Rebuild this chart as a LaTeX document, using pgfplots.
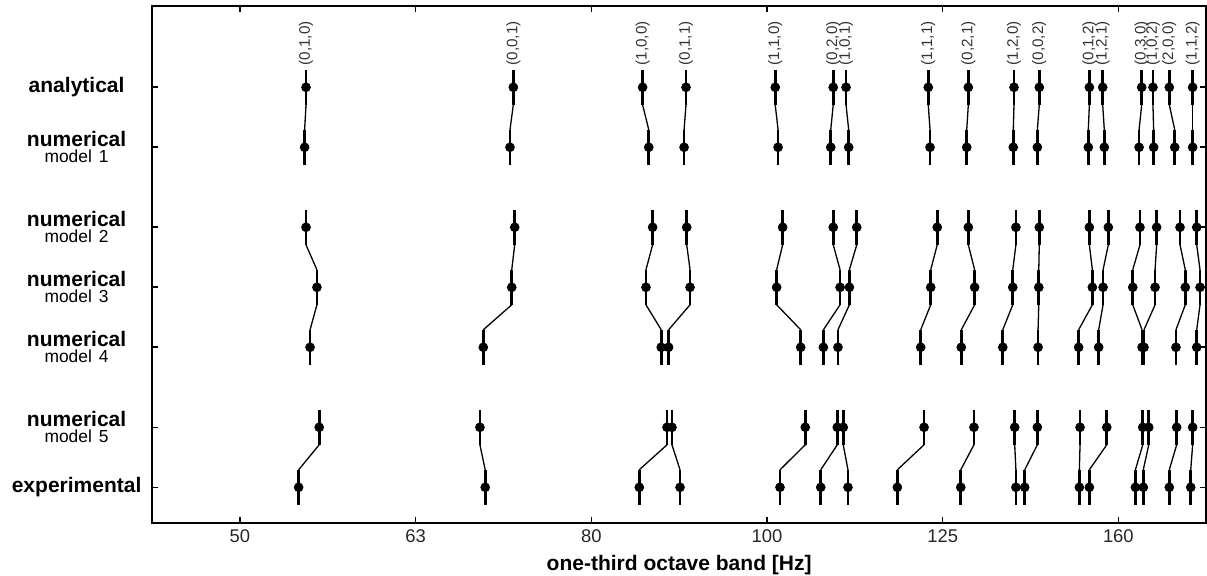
\documentclass[border=0pt]{standalone}
\usepackage{fontspec}
\setmainfont{Liberation Sans}
\usepackage{pgfplots}
\pgfplotsset{compat=1.18}
\usepackage{pgfplotstable}

% x: position in one-third octave bands (0 = 50 Hz, 1 = 63 Hz, ...)
\pgfplotstableread{
label   xA    xMa   xMb   xMc   xMd   xMe   xE
(0,1,0) 0.376 0.368 0.376 0.438 0.399 0.451 0.334
(0,0,1) 1.556 1.537 1.564 1.547 1.385 1.366 1.396
(1,0,0) 2.292 2.327 2.349 2.311 2.398 2.431 2.273
(0,1,1) 2.539 2.528 2.543 2.562 2.440 2.459 2.505
(1,1,0) 3.047 3.063 3.089 3.055 3.192 3.218 3.074
(0,2,0) 3.377 3.363 3.377 3.416 3.321 3.400 3.306
(1,0,1) 3.450 3.465 3.511 3.469 3.404 3.434 3.461
(1,1,1) 3.918 3.928 3.969 3.932 3.875 3.894 3.742
(0,2,1) 4.146 4.137 4.146 4.182 4.106 4.178 4.103
(1,2,0) 4.406 4.402 4.417 4.399 4.342 4.410 4.417
(0,0,2) 4.550 4.539 4.550 4.547 4.543 4.539 4.467
(0,1,2) 4.835 4.829 4.835 4.852 4.774 4.782 4.778
(1,2,1) 4.911 4.920 4.943 4.913 4.888 4.934 4.835
(0,3,0) 5.133 5.118 5.123 5.082 5.135 5.139 5.097
(1,0,2) 5.197 5.201 5.218 5.209 5.146 5.173 5.142
(2,0,0) 5.290 5.321 5.351 5.381 5.328 5.332 5.290
(1,1,2) 5.423 5.423 5.446 5.465 5.446 5.423 5.412
}\modes

\begin{document}
\begin{tikzpicture}
\begin{axis}[
  scale only axis, width=526.85pt, height=258.5pt,
  xmin=-0.499, xmax=5.499,
  ymin=-4.065, ymax=21.785, y dir=reverse,
  axis line style={line width=0.9pt},
  xtick={0,1,2,3,4,5}, xticklabels={50,63,80,100,125,160},
  ytick={0,3,7,10,13,17,20},
  yticklabels={
    {\textbf{analytical}},
    {\textbf{numerical}\\{\fontsize{8.7}{8}\selectfont model 1}},
    {\textbf{numerical}\\{\fontsize{8.7}{8}\selectfont model 2}},
    {\textbf{numerical}\\{\fontsize{8.7}{8}\selectfont model 3}},
    {\textbf{numerical}\\{\fontsize{8.7}{8}\selectfont model 4}},
    {\textbf{numerical}\\{\fontsize{8.7}{8}\selectfont model 5}},
    {\textbf{experimental}}},
  tick align=inside, major tick length=3pt,
  tick style={line width=0.8pt, black},
  xticklabel style={font=\fontsize{9.2}{10}\selectfont, text=black!85},
  yticklabel style={font=\fontsize{10.5}{8}\selectfont, align=center, text width=68pt, inner sep=0pt, xshift=-3.65pt},
  xlabel={\textbf{one-third octave band [Hz]}},
  xlabel style={font=\fontsize{10.5}{12}\selectfont, yshift=1pt},
  /pgf/number format/assume math mode=true,
  clip=false,
]
% mode labels
\addplot[draw=none, mark=none, point meta=explicit symbolic, nodes near coords,
  nodes near coords style={rotate=90, anchor=west, font=\fontsize{7.6}{8}\selectfont, text=black!80, inner sep=2pt}]
  table[x=xA, y expr=-0.875, meta=label] {\modes};
% thin connecting lines
\addplot[black, line width=0.65pt, mark=none, quiver={u=\thisrow{xMa}-\thisrow{xA}, v=1.25}] table[x=xA, y expr=0.875] {\modes};
\addplot[black, line width=0.65pt, mark=none, quiver={u=\thisrow{xMc}-\thisrow{xMb}, v=1.25}] table[x=xMb, y expr=7.875] {\modes};
\addplot[black, line width=0.65pt, mark=none, quiver={u=\thisrow{xMd}-\thisrow{xMc}, v=1.25}] table[x=xMc, y expr=10.875] {\modes};
\addplot[black, line width=0.65pt, mark=none, quiver={u=\thisrow{xE}-\thisrow{xMe}, v=1.25}] table[x=xMe, y expr=17.875] {\modes};
% points with thick bars
\pgfplotsset{rowstyle/.style={black, only marks, mark=*, mark size=2.2pt,
  error bars/.cd, y dir=both, y fixed=0.875, error mark=none, error bar style={line width=1.4pt}}}
\addplot[rowstyle] table[x=xA, y expr=0] {\modes};
\addplot[rowstyle] table[x=xMa, y expr=3] {\modes};
\addplot[rowstyle] table[x=xMb, y expr=7] {\modes};
\addplot[rowstyle] table[x=xMc, y expr=10] {\modes};
\addplot[rowstyle] table[x=xMd, y expr=13] {\modes};
\addplot[rowstyle] table[x=xMe, y expr=17] {\modes};
\addplot[rowstyle] table[x=xE, y expr=20] {\modes};
\end{axis}
\pgfresetboundingbox
\path[use as bounding box] ([shift={(-76.15pt,-26.5pt)}]current axis.south west) rectangle ([shift={(0.5pt,3pt)}]current axis.north east);
\end{tikzpicture}
\end{document}
